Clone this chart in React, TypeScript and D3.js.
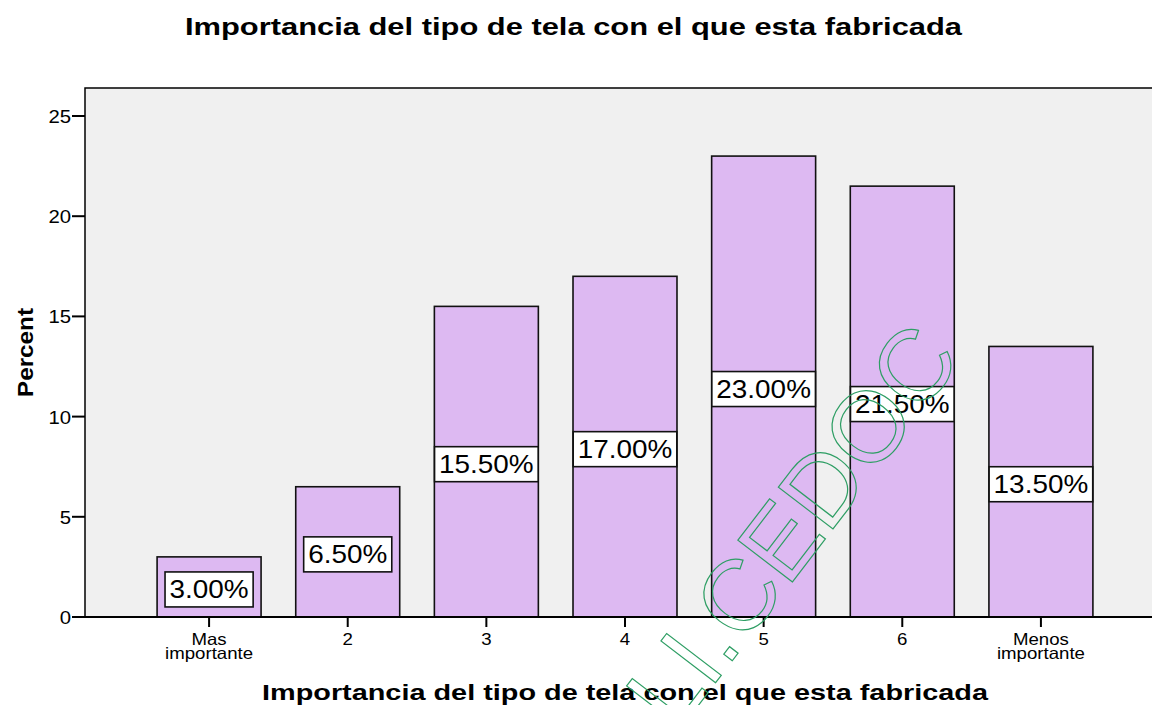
import React from "react";
import * as d3 from "d3";

const categories = ["Mas\nimportante", "2", "3", "4", "5", "6", "Menos\nimportante"];
const percentValues = [3.0, 6.5, 15.5, 17.0, 23.0, 21.5, 13.5];
const yTicks = [0, 5, 10, 15, 20, 25];
const chartTitle = "Importancia del tipo de tela con el que esta fabricada";
const xTitle = "Importancia del tipo de tela con el que esta fabricada";
const yTitle = "Percent";
const watermark = "BIBLI.CEDOC";

const W = 1152;
const H = 705;
const FONT = "Liberation Sans, Arial, sans-serif";
const SX = 1.13; // horizontal stretch of text

// Arial width table (em) for label measuring
const cw: Record<string, number> = { ".": 0.278, "%": 0.889 };
const measure = (s: string, em: number) =>
  s.split("").reduce((a, c) => a + (cw[c] ?? 0.556), 0) * em;

function T({ x, y, size, anchor = "middle", weight = "normal", children }: any) {
  return (
    <text
      transform={`translate(${x},${y}) scale(${SX},1)`}
      fontSize={size}
      fontFamily={FONT}
      fontWeight={weight}
      textAnchor={anchor}
      fill="#000"
    >
      {children}
    </text>
  );
}

export default function App() {
  const left = 85;
  const top = 88;
  const bottom = 617;
  const right = 1165;

  const x = d3
    .scaleBand<string>()
    .domain(categories)
    .range([left, right])
    .paddingInner(0.25)
    .paddingOuter(0.52);
  const y = d3.scaleLinear().domain([0, 25]).range([bottom, 116]);
  const bw = x.bandwidth();

  return (
    <svg width={W} height={H} style={{ position: "absolute", left: 0, top: 0 }}>
      <rect x={0} y={0} width={W} height={H} fill="#fff" />
      <text
        x={573.5}
        y={34.5}
        fontSize={23}
        fontWeight="bold"
        fontFamily={FONT}
        textAnchor="middle"
        textLength={777}
        lengthAdjust="spacingAndGlyphs"
      >
        {chartTitle}
      </text>

      <rect x={left} y={top} width={right - left + 20} height={bottom - top} fill="#f0f0f0" stroke="#000" strokeWidth={1.5} />

      {/* y axis */}
      {yTicks.map((t) => (
        <g key={t}>
          <line x1={72} x2={left} y1={y(t)} y2={y(t)} stroke="#000" strokeWidth={2} />
          <T x={71} y={y(t) + 7} size={18} anchor="end">
            {t}
          </T>
        </g>
      ))}

      {/* bars */}
      {categories.map((c, i) => {
        const v = percentValues[i];
        const bx = x(c)!;
        return (
          <rect key={c} x={bx} y={y(v)} width={bw} height={y(0) - y(v)} fill="#ddb9f2" stroke="#111" strokeWidth={1.6} />
        );
      })}

      {/* labels */}
      {categories.map((c, i) => {
        const v = percentValues[i];
        const label = v.toFixed(2) + "%";
        const cx = x(c)! + bw / 2;
        const cy = y(v / 2) + 2.5;
        const tw = measure(label, 27.9);
        const boxW = Math.min(bw, tw + 9);
        return (
          <g key={"l" + c}>
            <rect x={cx - boxW / 2} y={cy - 17.5} width={boxW} height={35} fill="#fff" stroke="#111" strokeWidth={1.6} />
            <text
              x={cx}
              y={cy + 9}
              fontSize={25}
              fontFamily={FONT}
              textAnchor="middle"
              textLength={tw}
              lengthAdjust="spacingAndGlyphs"
            >
              {label}
            </text>
          </g>
        );
      })}

      {/* x axis line */}
      <line x1={left} x2={W} y1={bottom} y2={bottom} stroke="#000" strokeWidth={2} />
      {categories.map((c) => {
        const cx = x(c)! + bw / 2;
        const lines = c.split("\n");
        return (
          <g key={"t" + c}>
            <line x1={cx} x2={cx} y1={bottom} y2={627} stroke="#000" strokeWidth={2} />
            {lines.map((ln, j) => (
              <T key={j} x={cx} y={645 + j * 13.5} size={16.5}>
                {ln}
              </T>
            ))}
          </g>
        );
      })}

      <text
        x={625}
        y={700}
        fontSize={22}
        fontWeight="bold"
        fontFamily={FONT}
        textAnchor="middle"
        textLength={726}
        lengthAdjust="spacingAndGlyphs"
      >
        {xTitle}
      </text>

      <text
        transform="translate(33,352.5) rotate(-90)"
        fontSize={22}
        fontWeight="bold"
        fontFamily={FONT}
        textAnchor="middle"
        textLength={89}
        lengthAdjust="spacingAndGlyphs"
      >
        {yTitle}
      </text>

      {/* watermark */}
      <text
        transform="translate(963,359) rotate(-52.6)"
        fontSize={100}
        fontFamily={FONT}
        textAnchor="end"
        fill="none"
        stroke="#2e9e64"
        strokeWidth={1.2}
      >
        {watermark}
      </text>
    </svg>
  );
}
